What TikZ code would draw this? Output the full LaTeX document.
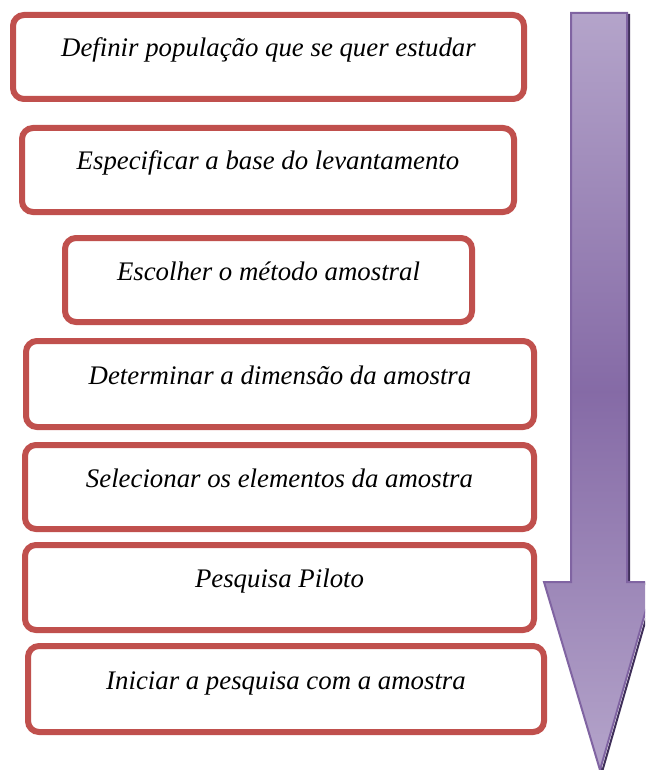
\documentclass[tikz,border=0pt]{standalone}
\usepackage{fontspec}
\setmainfont{Liberation Serif}

\definecolor{caixa}{HTML}{C0504D}
\definecolor{roxo}{HTML}{8064A2}
\definecolor{roxoclaro}{HTML}{B4A4CA}
\definecolor{roxoescuro}{HTML}{40305A}

\pgfdeclareverticalshading{setaroxo}{100bp}{color(0bp)=(roxoclaro); color(25bp)=(roxoclaro);
  color(50bp)=(roxo!90!roxoclaro); color(75bp)=(roxoclaro); color(100bp)=(roxoclaro)}

\tikzset{
  passo/.style={draw=caixa, line width=6pt, rounded corners=11pt, fill=white,
    inner sep=0pt, minimum height=84pt, text height=18pt, text depth=18pt,
    font=\fontsize{26.8}{30}\selectfont\itshape},
  seta/.style={draw=roxo, line width=2pt, line join=miter, shading=setaroxo}
}

\begin{document}
\begin{tikzpicture}[x=1pt,y=-1pt]
    \useasboundingbox (0,0) rectangle (645,770);
    \clip (0,0) rectangle (645,770);
    %% Draw the nodes
    \node[passo, minimum width=511pt] (A) at (268.5,57) {Definir população que se quer estudar};
    \node[passo, minimum width=492pt] (B) at (268,170) {Especificar a base do levantamento};
    \node[passo, minimum width=407pt] (C) at (268.5,280) {Escolher o método amostral};
    \node[passo, minimum width=508pt, minimum height=86pt] (D) at (280,384) {Determinar a dimensão da amostra};
    \node[passo, minimum width=509pt] (E) at (279.5,487) {Selecionar os elementos da amostra};
    \node[passo, minimum width=509pt, minimum height=85pt] (F) at (279.5,587.5) {Pesquisa Piloto};
    \node[passo, minimum width=516pt, minimum height=86pt] (G) at (286,689) {Iniciar a pesquisa com a amostra};
    %% Draw the source
    \node[anchor=base west, inner sep=0pt, font=\fontsize{24}{28}\selectfont] (fonte) at (3,786) {\spaceskip=15pt\relax Fonte: Vicente 2013};
    %% Draw the arrow
    \draw[roxoescuro, line width=2pt, line join=miter] (573,15) -- (629,15) -- (629,584) -- (656,584) -- (602,772) -- (546,584);
    \draw[seta] (571,13) -- (627,13) -- (627,582) -- (654,582) -- (600,770) -- (544,582) -- (571,582) -- cycle;
\end{tikzpicture}
\end{document}
